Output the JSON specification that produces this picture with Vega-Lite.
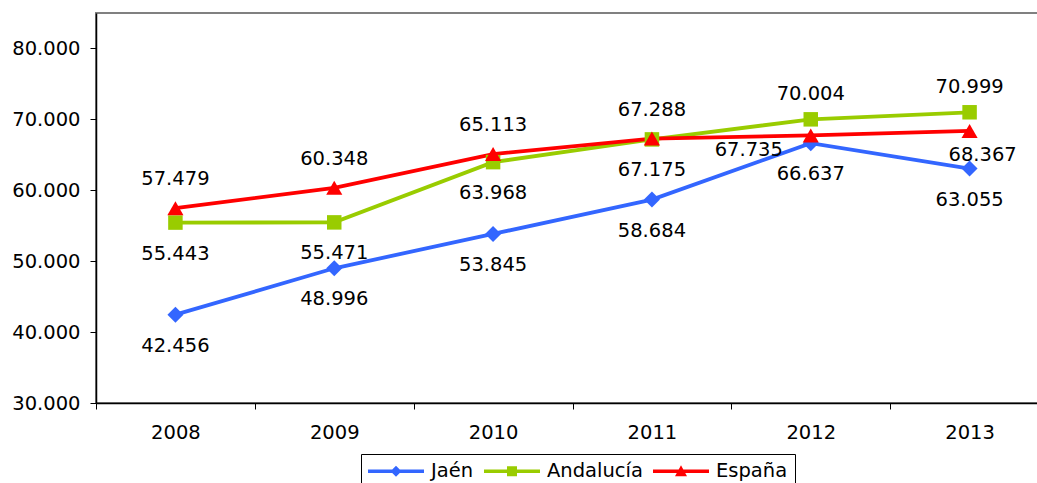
{
  "$schema": "https://vega.github.io/schema/vega-lite/v6.json",
  "width": 953,
  "height": 390,
  "autosize": {"type": "none"},
  "padding": {"left": 96, "top": 13, "right": 0, "bottom": 80},
  "background": "white",
  "config": {
    "locale": {"number": {"decimal": ",", "thousands": ".", "grouping": [3], "currency": ["", " €"]}},
    "font": "DejaVu Sans",
    "view": {"stroke": "#808080", "strokeWidth": 2},
    "axis": {"grid": false, "labelFont": "DejaVu Sans", "labelFontSize": 19.5, "labelColor": "#000", "domainColor": "#000", "domainWidth": 1.5, "tickColor": "#000", "tickWidth": 1, "tickSize": 6, "title": null}
  },
  "data": {"values": [
    {"year": "2008", "series": "Jaén", "value": 42456},
    {"year": "2009", "series": "Jaén", "value": 48996},
    {"year": "2010", "series": "Jaén", "value": 53845},
    {"year": "2011", "series": "Jaén", "value": 58684},
    {"year": "2012", "series": "Jaén", "value": 66637},
    {"year": "2013", "series": "Jaén", "value": 63055},
    {"year": "2008", "series": "Andalucía", "value": 55443},
    {"year": "2009", "series": "Andalucía", "value": 55471},
    {"year": "2010", "series": "Andalucía", "value": 63968},
    {"year": "2011", "series": "Andalucía", "value": 67175},
    {"year": "2012", "series": "Andalucía", "value": 70004},
    {"year": "2013", "series": "Andalucía", "value": 70999},
    {"year": "2008", "series": "España", "value": 57479},
    {"year": "2009", "series": "España", "value": 60348},
    {"year": "2010", "series": "España", "value": 65113},
    {"year": "2011", "series": "España", "value": 67288},
    {"year": "2012", "series": "España", "value": 67735},
    {"year": "2013", "series": "España", "value": 68367}
  ]},
  "encoding": {
    "x": {"field": "year", "type": "ordinal", "scale": {"paddingInner": 0, "paddingOuter": 0},
          "axis": {"labelAngle": 0, "tickBand": "extent", "labelPadding": 14}},
    "y": {"field": "value", "type": "quantitative",
          "scale": {"domain": [30000, 85000], "nice": false, "zero": false},
          "axis": {"values": [30000, 40000, 50000, 60000, 70000, 80000], "format": ",d", "labelPadding": 10}},
    "color": {"field": "series", "type": "nominal",
              "scale": {"domain": ["Jaén", "Andalucía", "España"], "range": ["#3366FF", "#99CC00", "#FF0000"]}}
  },
  "layer": [
    {"mark": {"type": "line", "strokeWidth": 3.8}, "encoding": {"detail": {"field": "series"}}},
    {"transform": [{"filter": "datum.series == 'Jaén'"}],
     "mark": {"type": "point", "shape": "diamond", "filled": true, "opacity": 1, "size": 256}},
    {"transform": [{"filter": "datum.series == 'Andalucía'"}],
     "mark": {"type": "point", "shape": "square", "filled": true, "opacity": 1, "size": 210}},
    {"transform": [{"filter": "datum.series == 'España'"}],
     "mark": {"type": "point", "shape": "triangle-up", "filled": true, "opacity": 1, "size": 260}},
    {"transform": [{"filter": "datum.series == 'España' && datum.year <= '2011'"}],
     "mark": {"type": "text", "fontSize": 19.5, "dy": -29, "font": "DejaVu Sans"},
     "encoding": {"text": {"field": "value", "type": "quantitative", "format": ",d"}, "color": {"value": "#000"}}},
    {"transform": [{"filter": "datum.series == 'Andalucía' && datum.year >= '2012'"}],
     "mark": {"type": "text", "fontSize": 19.5, "dy": -25, "font": "DejaVu Sans"},
     "encoding": {"text": {"field": "value", "type": "quantitative", "format": ",d"}, "color": {"value": "#000"}}},
    {"transform": [{"filter": "datum.series == 'Jaén' || (datum.series == 'Andalucía' && datum.year <= '2011')"}],
     "mark": {"type": "text", "fontSize": 19.5, "dy": 31, "font": "DejaVu Sans"},
     "encoding": {"text": {"field": "value", "type": "quantitative", "format": ",d"}, "color": {"value": "#000"}}},
    {"transform": [{"filter": "datum.series == 'España' && datum.year == '2013'"}],
     "mark": {"type": "text", "fontSize": 19.5, "dy": 24, "dx": 13, "font": "DejaVu Sans"},
     "encoding": {"text": {"field": "value", "type": "quantitative", "format": ",d"}, "color": {"value": "#000"}}},
    {"transform": [{"filter": "datum.series == 'España' && datum.year == '2012'"}],
     "mark": {"type": "text", "fontSize": 19.5, "dy": 15, "dx": -62, "font": "DejaVu Sans"},
     "encoding": {"text": {"field": "value", "type": "quantitative", "format": ",d"}, "color": {"value": "#000"}}},
    {"transform": [{"filter": "datum.series == 'none'"}],
     "mark": {"type": "point", "filled": true, "opacity": 1},
     "encoding": {
       "shape": {"field": "series", "type": "nominal",
                 "scale": {"domain": ["Jaén", "Andalucía", "España"],
                           "range": ["M-2.8,-0.18H2.8V0.18H-2.8Z M0,-0.55L0.55,0L0,0.55L-0.55,0Z",
                                     "M-2.8,-0.18H2.8V0.18H-2.8Z M-0.5,-0.5H0.5V0.5H-0.5Z",
                                     "M-2.8,-0.18H2.8V0.18H-2.8Z M0,-0.6L0.6,0.5H-0.6Z"]},
                 "legend": {"title": null, "orient": "none", "legendX": 265, "legendY": 441, "direction": "horizontal", "symbolSize": 400,
                            "symbolOffset": 18, "labelOffset": 25, "columnPadding": 10, "padding": 7,
                            "strokeColor": "#000", "labelFontSize": 19.5, "labelFont": "DejaVu Sans",
                            "labelColor": "#000", "symbolStrokeWidth": 0, "symbolOpacity": 1}},
       "color": {"field": "series", "type": "nominal",
                 "legend": {"title": null, "orient": "none", "legendX": 265, "legendY": 441, "direction": "horizontal", "symbolSize": 400,
                            "symbolOffset": 18, "labelOffset": 25, "columnPadding": 10, "padding": 7,
                            "strokeColor": "#000", "labelFontSize": 19.5, "labelFont": "DejaVu Sans",
                            "labelColor": "#000", "symbolStrokeWidth": 0, "symbolOpacity": 1}}
     }}
  ]
}
